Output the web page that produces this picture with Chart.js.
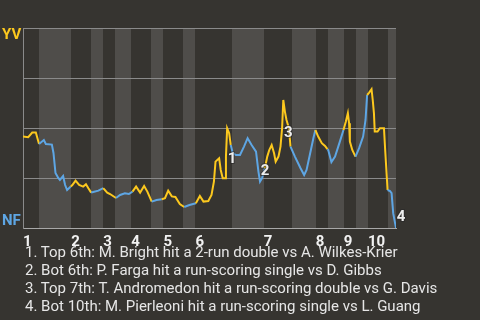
<!DOCTYPE html>
<html>
<head>
<meta charset="utf-8">
<script src="https://cdn.jsdelivr.net/npm/chart.js@4/dist/chart.umd.min.js"></script>
<style>
  body { margin: 0; background: #363430; }
  #wrap { position: relative; width: 480px; height: 320px; }
  #notes {
    position: absolute; left: 25px; top: 243px;
    font: 15px Roboto, sans-serif; line-height: 18px; color: #e6e6e6;
    white-space: nowrap;
  }
</style>
</head>
<body>
<div id="wrap">
  <canvas id="wpChart" width="480" height="320"></canvas>
  <div id="notes"></div>
</div>
<script>
// Game progress (plate appearances) and YV win probability (%)
const plays = [
  0, 1.3, 2.3, 3.2, 4.0, 5.2, 5.7, 7.2, 7.6, 8.1, 8.8, 9.2, 10.0, 10.5, 11.0, 11.9,
  12.3, 13.1, 14.0, 15.0, 15.7, 16.3, 17.0, 17.5, 18.8, 20.0, 21.0, 21.7, 23.2, 24.2,
  25.4, 26.4, 27.3, 28.2, 29.2, 30.2, 31.0, 32.1, 33.3, 34.6, 35.4, 36.2, 37.1, 38.0,
  39.1, 40.2, 41.5, 43.1, 44.1, 45.0, 46.2, 47.0, 47.6, 48.0, 48.9, 49.3, 49.8, 50.4,
  50.6, 50.9, 51.4, 51.8, 52.3, 53.1, 54.1, 55.1, 56.0, 57.0, 58.1, 58.7, 59.1, 59.6,
  60.3, 60.9, 61.4, 62.0, 62.6, 63.0, 63.7, 64.2, 64.6, 64.9, 65.3, 65.7, 66.3, 66.7,
  67.8, 69.2, 70.1, 70.7, 71.6, 72.4, 72.9, 73.6, 74.5, 75.3, 75.9, 76.1, 76.9, 77.8,
  78.6, 79.0, 79.9, 80.5, 81.0, 81.3, 81.5, 82.1, 82.9, 83.8, 84.8, 85.4, 85.8, 86.3,
  86.9, 87.2, 87.5, 87.7, 88.4, 89.0, 90.0, 90.3, 90.7, 90.9, 91.5, 91.9, 92.3, 93
];
const winProb = [
  45.7, 45.4, 47.7, 47.7, 42, 44, 42, 41.7, 37.5, 27.5, 25, 24, 26, 21.5, 19, 20.7,
  21.5, 23.7, 21.5, 20.7, 21.9, 19.9, 17.7, 18, 18.7, 19.9, 17.7, 17, 15, 16.5,
  17.4, 17, 18.2, 20.7, 17.7, 21, 18.2, 13.2, 14, 14.4, 14.9, 18.7, 15.8, 15.5,
  12, 10.5, 11.5, 12.4, 16, 13.2, 13.5, 16.5, 23.2, 33.2, 34.9, 29, 24.9, 24.9,
  35.7, 49.9, 47.4, 41.5, 37.4, 36.5, 36.5, 40.7, 44.9, 41.5, 38.2, 28.2, 23.2, 24.9,
  29.9, 35.7, 39, 41.5, 37.4, 33.2, 35.7, 40.7, 49.9, 64, 58.2, 54, 49.9, 40.7,
  35.7, 29.9, 26.5, 29, 37.4, 44.9, 49, 45.7, 42.4, 41, 39.4, 39, 33, 35.7,
  40.7, 43.2, 49, 53.2, 57.4, 52.4, 43.2, 39, 35.7, 39.9, 45.7, 54, 66.5, 67.7,
  69.4, 64, 57.4, 48.2, 48.2, 49.9, 49.9, 39, 25.7, 19, 18.5, 17.4, 7.4, 0
];

// Start of each half inning (top, bottom, top, ...) and the end of the game
const halfStarts = [0, 4, 12, 17, 20, 23, 27, 32, 35, 40, 43, 52, 60, 67, 73, 76, 80, 83, 86, 91];
const gameEnd = 93;
const innings = ["1", "2", "3", "4", "5", "6", "7", "8", "9", "10"];

// Key plays: where they happen on the line, and their descriptions
const eventPlays = [50.9, 59.1, 64.9, 93];
const eventProb = [49.9, 23.2, 64, 0];
const eventNotes = [
  "Top 6th: M. Bright hit a 2-run double vs A. Wilkes-Krier",
  "Bot 6th: P. Farga hit a run-scoring single vs D. Gibbs",
  "Top 7th: T. Andromedon hit a run-scoring double vs G. Davis",
  "Bot 10th: M. Pierleoni hit a run-scoring single vs L. Guang"
];

const YELLOW = "#fcc81e";
const BLUE = "#5ea6e4";
const BG = "#363430";
const BAND = "#4f4d4a";

function halfIndex(x) {
  let idx = 0;
  halfStarts.forEach((s, i) => { if (x >= s) idx = i; });
  return idx;
}

// Shade the bottom half of every inning
const bandsPlugin = {
  id: "bands",
  beforeDraw(chart) {
    const { ctx, chartArea, scales } = chart;
    ctx.save();
    ctx.fillStyle = BG;
    ctx.fillRect(0, 0, chart.width, chart.height);
    ctx.fillStyle = BAND;
    halfStarts.forEach((s, i) => {
      if (i % 2 === 0) return;
      const end = i + 1 < halfStarts.length ? halfStarts[i + 1] : gameEnd;
      const x0 = Math.round(scales.x.getPixelForValue(s));
      const x1 = Math.round(scales.x.getPixelForValue(end));
      ctx.fillRect(x0, chartArea.top, x1 - x0, chartArea.bottom - chartArea.top);
    });
    ctx.restore();
  }
};

// Team names at the ends of the axis and the numbered key plays
const labelsPlugin = {
  id: "labels",
  afterDatasetsDraw(chart) {
    const { ctx, scales } = chart;
    ctx.save();
    ctx.font = "bold 15px Roboto, sans-serif";
    ctx.textAlign = "left";
    ctx.textBaseline = "top";
    ctx.fillStyle = YELLOW;
    ctx.fillText("YV", 2, scales.y.getPixelForValue(100) + 0);
    ctx.textBaseline = "bottom";
    ctx.fillStyle = BLUE;
    ctx.fillText("NF", 2, scales.y.getPixelForValue(0) + 1);

    const offsets = [[5, 31], [5, -10], [5, 33], [5, -11]];
    ctx.textAlign = "center";
    ctx.textBaseline = "middle";
    ctx.fillStyle = "#eeeeee";
    ctx.strokeStyle = "rgba(40,40,40,0.6)";
    ctx.lineWidth = 2;
    eventPlays.forEach((x, i) => {
      const px = scales.x.getPixelForValue(x) + offsets[i][0];
      const py = scales.y.getPixelForValue(eventProb[i]) + offsets[i][1];
      ctx.strokeText(String(i + 1), px, py);
      ctx.fillText(String(i + 1), px, py);
    });
    ctx.restore();
  }
};

const inningTicks = halfStarts.filter((s, i) => i % 2 === 0);

new Chart(document.getElementById("wpChart"), {
  type: "line",
  data: {
    datasets: [{
      data: plays.map((x, i) => ({ x: x, y: winProb[i] })),
      borderWidth: 2,
      pointRadius: 0,
      tension: 0,
      borderColor: YELLOW,
      segment: {
        borderColor: c => halfIndex((c.p0.parsed.x + c.p1.parsed.x) / 2) % 2 === 0 ? YELLOW : BLUE
      }
    }]
  },
  options: {
    responsive: false,
    animation: false,
    layout: { padding: { left: 23, top: 28, right: 84, bottom: 74 } },
    plugins: { legend: { display: false }, tooltip: { enabled: false } },
    scales: {
      x: {
        type: "linear",
        min: 0,
        max: gameEnd,
        afterFit: s => { s.height = 18; },
        afterBuildTicks: s => { s.ticks = inningTicks.map(v => ({ value: v })); },
        grid: { display: false },
        border: { display: true, color: "#a8a8a8", width: 1 },
        ticks: {
          align: "start",
          padding: -3,
          color: "#f2f2f2",
          font: { family: "Roboto", size: 15, weight: "bold" },
          callback: v => innings[inningTicks.indexOf(v)]
        }
      },
      y: {
        min: 0,
        max: 100,
        afterFit: s => { s.width = 0; },
        ticks: { display: false, stepSize: 25 },
        grid: { color: "#8a8a8a", drawTicks: false },
        border: { display: true, color: "#8a8a8a" }
      }
    }
  },
  plugins: [bandsPlugin, labelsPlugin]
});

document.getElementById("notes").innerHTML =
  eventNotes.map((t, i) => (i + 1) + ". " + t).join("<br>");
</script>
</body>
</html>
